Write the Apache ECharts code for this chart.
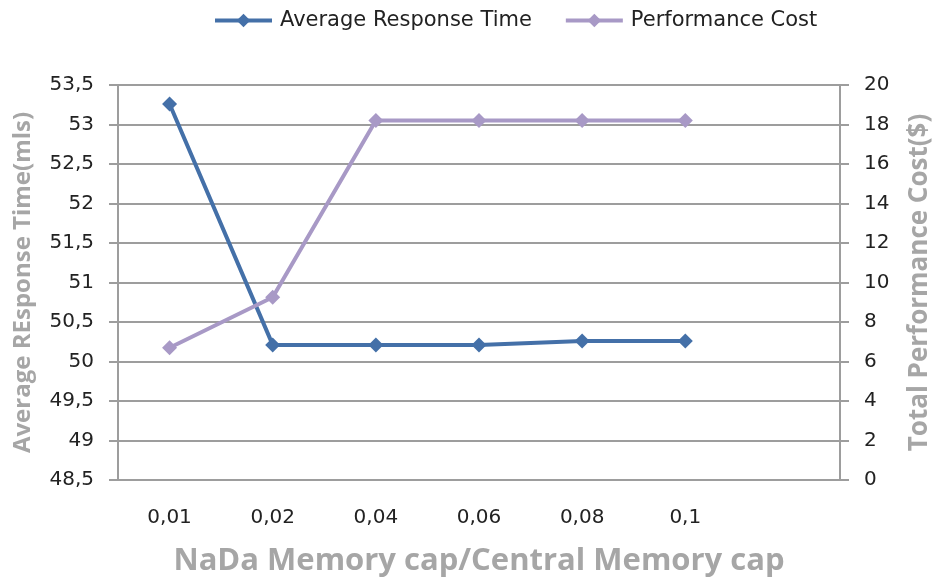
<!DOCTYPE html>
<html><head><meta charset="utf-8">
<script src="https://cdn.jsdelivr.net/npm/echarts@6/dist/echarts.min.js"></script>
<style>html,body{margin:0;padding:0;background:#fff}#c{width:941px;height:582px}</style>
</head><body><div id="c"></div>
<script>
const categories = ['0,01','0,02','0,04','0,06','0,08','0,1',''];
const responseTime = [53.26, 50.21, 50.21, 50.21, 50.26, 50.26];
const perfCost = [6.7, 9.25, 18.2, 18.2, 18.2, 18.2];
const leftTicks = {min: 48.5, max: 53.5, interval: 0.5};
const rightTicks = {min: 0, max: 20, interval: 2};

const blue = '#4470A8', purple = '#A899C6', gridC = '#9d9d9d', titleC = '#a6a6a6';
const font = 'DejaVu Sans, sans-serif';
const tfont = 'Open Sans, Noto Sans, sans-serif';
const fmt = v => String(v).replace('.', ',');
const chart = echarts.init(document.getElementById('c'));
chart.setOption({
  animation: false,
  textStyle: {fontFamily: font},
  legend: {
    top: 10, left: 213, padding: 0, itemWidth: 57, itemHeight: 17, itemGap: 32,
    lineStyle: {width: 4},
    textStyle: {fontSize: 21, color: '#222', fontFamily: font, padding: [0, 0, 0, 3]},
    data: ['Average Response Time', 'Performance Cost']
  },
  grid: {left: 118, right: 99, top: 85, bottom: 99},
  xAxis: {
    type: 'category', data: categories, boundaryGap: true,
    name: 'NaDa Memory cap/Central Memory cap', nameLocation: 'middle', nameGap: 66,
    nameTextStyle: {fontSize: 31, fontWeight: 'bold', color: titleC, fontFamily: tfont},
    axisLine: {lineStyle: {color: gridC, width: 2}},
    axisTick: {length: 8, lineStyle: {color: gridC, width: 2}},
    axisLabel: {fontSize: 20, color: '#222', margin: 28, fontFamily: font}
  },
  yAxis: [{
    type: 'value', ...leftTicks, position: 'left',
    name: 'Average REsponse Time(mls)', nameLocation: 'middle', nameGap: 83,
    nameTextStyle: {fontSize: 24, fontWeight: 'bold', color: titleC, fontFamily: tfont},
    axisLine: {show: true, lineStyle: {color: gridC, width: 2}},
    axisTick: {show: true, length: 9, lineStyle: {color: gridC, width: 2}},
    axisLabel: {fontSize: 20, color: '#222', margin: 24, formatter: fmt, fontFamily: font},
    splitLine: {lineStyle: {color: gridC, width: 2}}
  }, {
    type: 'value', ...rightTicks, position: 'right',
    name: 'Total Performance Cost($)', nameLocation: 'middle', nameGap: 67,
    nameTextStyle: {fontSize: 26, fontWeight: 'bold', color: titleC, fontFamily: tfont},
    axisLine: {show: true, lineStyle: {color: gridC, width: 2}},
    axisTick: {show: true, length: 9, lineStyle: {color: gridC, width: 2}},
    axisLabel: {fontSize: 20, color: '#222', margin: 24, fontFamily: font},
    splitLine: {show: false}
  }],
  series: [{
    name: 'Average Response Time', type: 'line', yAxisIndex: 0, data: responseTime,
    symbol: 'diamond', symbolSize: 15,
    lineStyle: {color: blue, width: 4}, itemStyle: {color: blue}
  }, {
    name: 'Performance Cost', type: 'line', yAxisIndex: 1, data: perfCost,
    symbol: 'diamond', symbolSize: 15,
    lineStyle: {color: purple, width: 4}, itemStyle: {color: purple}
  }]
});
</script></body></html>
